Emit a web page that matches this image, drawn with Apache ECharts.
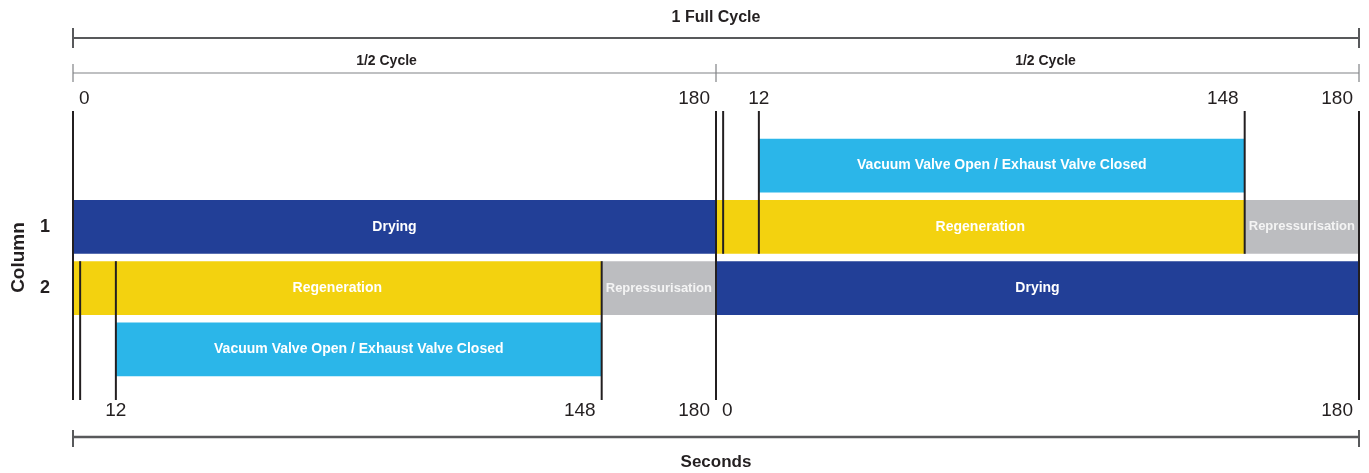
<!DOCTYPE html>
<html>
<head>
<meta charset="utf-8">
<title>Column cycle</title>
<script src="https://cdn.jsdelivr.net/npm/echarts@6/dist/echarts.min.js"></script>
<style>
  html, body { margin: 0; padding: 0; background: #fff; }
  #chart { width: 1369px; height: 473px; }
</style>
</head>
<body>
<div id="chart"></div>
<script>
// rows of the schedule, top to bottom
const rows = ['vacuum-1', '1', '2', 'vacuum-2'];

// column 1, seconds over the full 360 s cycle
const col1Phases = ['Drying', 'Regeneration', 'Repressurisation'];
const col1Bounds = [0, 180, 328, 360];
const col1Vacuum = [192, 328];

// column 2
const col2Phases = ['Regeneration', 'Repressurisation', 'Drying'];
const col2Bounds = [0, 148, 180, 360];
const col2Vacuum = [12, 148];

const vacuumLabel = 'Vacuum Valve Open / Exhaust Valve Closed';

// switch lines (seconds)
const fullLines = [0, 180, 360];
const col1Lines = [182, 192, 328];
const col2Lines = [2, 12, 148];

// time labels above and below
const topTickSec = [0, 180, 192, 328, 360];
const topTickText = ['0', '180', '12', '148', '180'];
const bottomTickSec = [12, 148, 180, 180, 360];
const bottomTickText = ['12', '148', '180', '0', '180'];

const FONT = '"Liberation Sans", Arial, Helvetica, sans-serif';
const colors = {
  'Drying': '#223f97',
  'Regeneration': '#f3d20f',
  'Repressurisation': '#bcbdc0',
  'Vacuum': '#2bb6e9'
};

// bars: [start, end, row], names kept aside
let barData = [], barNames = [], barColors = [];
for (let i = 0; i < col1Phases.length; i++) {
  barData.push([col1Bounds[i], col1Bounds[i + 1], 1]);
  barNames.push(col1Phases[i]);
  barColors.push(colors[col1Phases[i]]);
}
for (let i = 0; i < col2Phases.length; i++) {
  barData.push([col2Bounds[i], col2Bounds[i + 1], 2]);
  barNames.push(col2Phases[i]);
  barColors.push(colors[col2Phases[i]]);
}
barData.push([col1Vacuum[0], col1Vacuum[1], 0]);
barNames.push(vacuumLabel);
barColors.push(colors.Vacuum);
barData.push([col2Vacuum[0], col2Vacuum[1], 3]);
barNames.push(vacuumLabel);
barColors.push(colors.Vacuum);

// lines: [sec, kind]  kind 0 = full height, 1 = column 1 part, 2 = column 2 part
let lineData = [];
fullLines.forEach(s => lineData.push([s, 0]));
col1Lines.forEach(s => lineData.push([s, 1]));
col2Lines.forEach(s => lineData.push([s, 2]));

let tickData = [], tickText = [];
topTickSec.forEach((s, i) => { tickData.push([s, 0]); tickText.push(topTickText[i]); });
bottomTickSec.forEach((s, i) => { tickData.push([s, 1]); tickText.push(bottomTickText[i]); });

const BAR_SHARE = 0.88;

function renderBar(params, api) {
  const row = api.value(2);
  const s = api.coord([api.value(0), row]);
  const e = api.coord([api.value(1), row]);
  const h = api.size([0, 1])[1] * BAR_SHARE;
  const name = barNames[params.dataIndex];
  // the short grey phase gets a slightly smaller label so it stays inside
  const size = name === 'Repressurisation' ? 13 : 14;
  return {
    type: 'rect',
    shape: { x: s[0], y: s[1] - h / 2, width: e[0] - s[0], height: h },
    style: { fill: barColors[params.dataIndex] },
    textContent: {
      style: {
        text: name,
        fill: name === 'Repressurisation' ? '#f4f4f4' : '#ffffff',
        font: 'bold ' + size + 'px ' + FONT
      }
    },
    textConfig: { position: 'inside' }
  };
}

function renderLine(params, api) {
  const grid = params.coordSys;
  const kind = api.value(1);
  const band = api.size([0, 1])[1];
  const x = api.coord([api.value(0), 0])[0];
  let y1 = grid.y - 24;
  let y2 = grid.y + grid.height + 20;
  if (kind === 1) y2 = api.coord([0, 1])[1] + band * BAR_SHARE / 2;
  if (kind === 2) y1 = api.coord([0, 2])[1] - band * BAR_SHARE / 2;
  return {
    type: 'line',
    shape: { x1: x, y1: y1, x2: x, y2: y2 },
    style: { stroke: '#231f20', lineWidth: 2 }
  };
}

function renderTick(params, api) {
  const grid = params.coordSys;
  const x = api.coord([api.value(0), 0])[0];
  const y = api.value(1) === 0 ? grid.y - 36 : grid.y + grid.height + 31;
  const text = tickText[params.dataIndex];
  let align = 'right', dx = -6;
  if (text === '0') { align = 'left'; dx = 6; }
  if (text === '12') { align = 'center'; dx = 0; }
  return {
    type: 'text',
    x: x + dx,
    y: y,
    style: {
      text: text,
      fill: '#231f20',
      font: '19px ' + FONT,
      align: align,
      verticalAlign: 'middle'
    }
  };
}

function renderBrackets(params, api) {
  const grid = params.coordSys;
  const x0 = api.coord([0, 0])[0];
  const xm = api.coord([180, 0])[0];
  const x1 = api.coord([360, 0])[0];
  const top = grid.y;
  const bottom = grid.y + grid.height;
  const kids = [];
  const hline = (y, w, c) => kids.push({ type: 'line', shape: { x1: x0, y1: y, x2: x1, y2: y }, style: { stroke: c, lineWidth: w } });
  const cap = (x, ya, yb, w, c) => kids.push({ type: 'line', shape: { x1: x, y1: ya, x2: x, y2: yb }, style: { stroke: c, lineWidth: w } });
  const label = (x, y, t, size) => kids.push({
    type: 'text', x: x, y: y,
    style: { text: t, fill: '#231f20', font: 'bold ' + size + 'px ' + FONT, align: 'center', verticalAlign: 'middle' }
  });

  // 1 full cycle
  hline(top - 97, 2, '#58595b');
  cap(x0, top - 107, top - 87, 2, '#58595b');
  cap(x1, top - 107, top - 87, 2, '#58595b');
  label(xm, top - 117, '1 Full Cycle', 16);

  // half cycles
  hline(top - 62, 1.2, '#808285');
  [x0, xm, x1].forEach(x => cap(x, top - 71, top - 53, 1.2, '#808285'));
  label((x0 + xm) / 2 - 8, top - 74, '1/2 Cycle', 14);
  label((xm + x1) / 2 + 8, top - 74, '1/2 Cycle', 14);

  // seconds
  hline(bottom + 57, 2.5, '#58595b');
  cap(x0, bottom + 50, bottom + 67, 2, '#58595b');
  cap(x1, bottom + 50, bottom + 67, 2, '#58595b');
  label(xm, bottom + 82, 'Seconds', 17);

  return { type: 'group', children: kids };
}

const chart = echarts.init(document.getElementById('chart'));
const option = {
  animation: false,
  backgroundColor: '#ffffff',
  grid: { left: 73, right: 10, top: 135, height: 245 },
  xAxis: { type: 'value', min: 0, max: 360, show: false },
  yAxis: {
    type: 'category',
    data: rows,
    inverse: true,
    axisLine: { show: false },
    axisTick: { show: false },
    splitLine: { show: false },
    axisLabel: {
      formatter: v => (/^\d$/.test(v) ? v : ''),
      margin: 23,
      color: '#231f20',
      fontSize: 18,
      fontWeight: 'bold',
      fontFamily: FONT
    },
    name: 'Column',
    nameLocation: 'middle',
    nameRotate: 90,
    nameGap: 45,
    nameTextStyle: { color: '#231f20', fontSize: 19, fontWeight: 'bold', fontFamily: FONT }
  },
  series: [
    { type: 'custom', name: 'phases', renderItem: renderBar, encode: { x: [0, 1], y: 2 }, data: barData, clip: false },
    { type: 'custom', name: 'switches', renderItem: renderLine, encode: { x: 0 }, data: lineData, clip: false, z: 3 },
    { type: 'custom', name: 'times', renderItem: renderTick, encode: { x: 0 }, data: tickData, clip: false },
    { type: 'custom', name: 'brackets', renderItem: renderBrackets, data: [[0, 0]], clip: false }
  ]
};
chart.setOption(option);
</script>
</body>
</html>
